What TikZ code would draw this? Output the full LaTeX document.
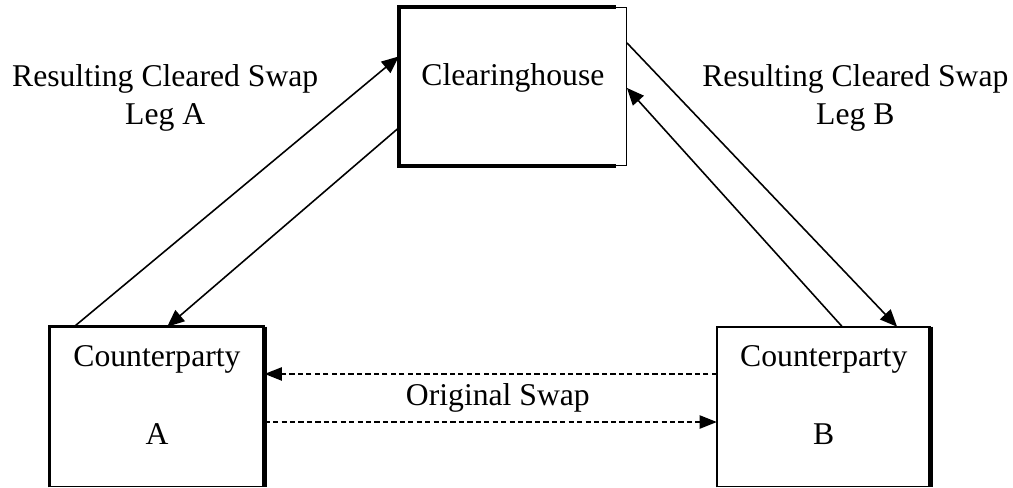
\documentclass[tikz,border=0pt]{standalone}
\usepackage{fontspec}
\setmainfont{Liberation Serif}
\usetikzlibrary{arrows.meta}

\begin{document}
\begin{tikzpicture}[
    font=\fontsize{12}{14.5}\selectfont,
    party/.style={draw,line width=0.5pt,inner sep=0pt,align=center,text depth=9pt},
    heavy/.style={line width=1.3pt},
    leg/.style={line width=0.6pt,-{Triangle[length=6.5pt,width=5.5pt]}},
    swapline/.style={line width=0.6pt,dash pattern=on 2pt off 1.2pt,-{Triangle[length=6.5pt,width=5pt]}}
  ]
      \useasboundingbox (0,0) rectangle (13.49,6.49);

      \node[party,minimum width=3.02cm,minimum height=2.10cm] (CH) at (6.83,5.34) {Clearinghouse};
      \node[party,minimum width=2.85cm,minimum height=2.12cm] (A) at (2.09,1.07) {Counterparty\\[15pt]A};
      \node[party,minimum width=2.83cm,minimum height=2.12cm] (B) at (10.97,1.07) {Counterparty\\[15pt]B};

      \draw[heavy] ([xshift=-0.15cm]CH.north east) -- (CH.north west) -- (CH.south west) -- ([xshift=-0.15cm]CH.south east);
      \draw[heavy] (A.south west) -- (A.north west) -- (A.north east);
      \draw[line width=2.1pt] (A.north east) -- (A.south east);
      \draw[line width=0.9pt] (B.south west) -- (B.north west) -- (B.north east);
      \draw[line width=2.1pt] (B.north east) -- (B.south east);

      \draw[leg] ([xshift=0.33cm]A.north west) -- ([yshift=-0.66cm]CH.north west);
      \draw[leg] ([yshift=-1.61cm]CH.north west) -- ([xshift=1.57cm]A.north west);
      \draw[leg] ([yshift=-0.48cm]CH.north east) -- ([xshift=2.40cm]B.north west);
      \draw[leg] ([xshift=1.67cm]B.north west) -- ([yshift=-1.08cm]CH.north east);

      \draw[swapline] ([yshift=0.44cm]B.west) -- ([yshift=0.44cm]A.east);
      \draw[swapline] ([yshift=-0.20cm]A.east) -- ([yshift=-0.20cm]B.west);

      \node[align=center] (legA) at (2.20,5.19) {Resulting Cleared Swap\\Leg A};
      \node[align=center] (legB) at (11.39,5.19) {Resulting Cleared Swap\\Leg B};
      \node (orig) at (6.63,1.19) {Original Swap};
    \end{tikzpicture}
\end{document}
